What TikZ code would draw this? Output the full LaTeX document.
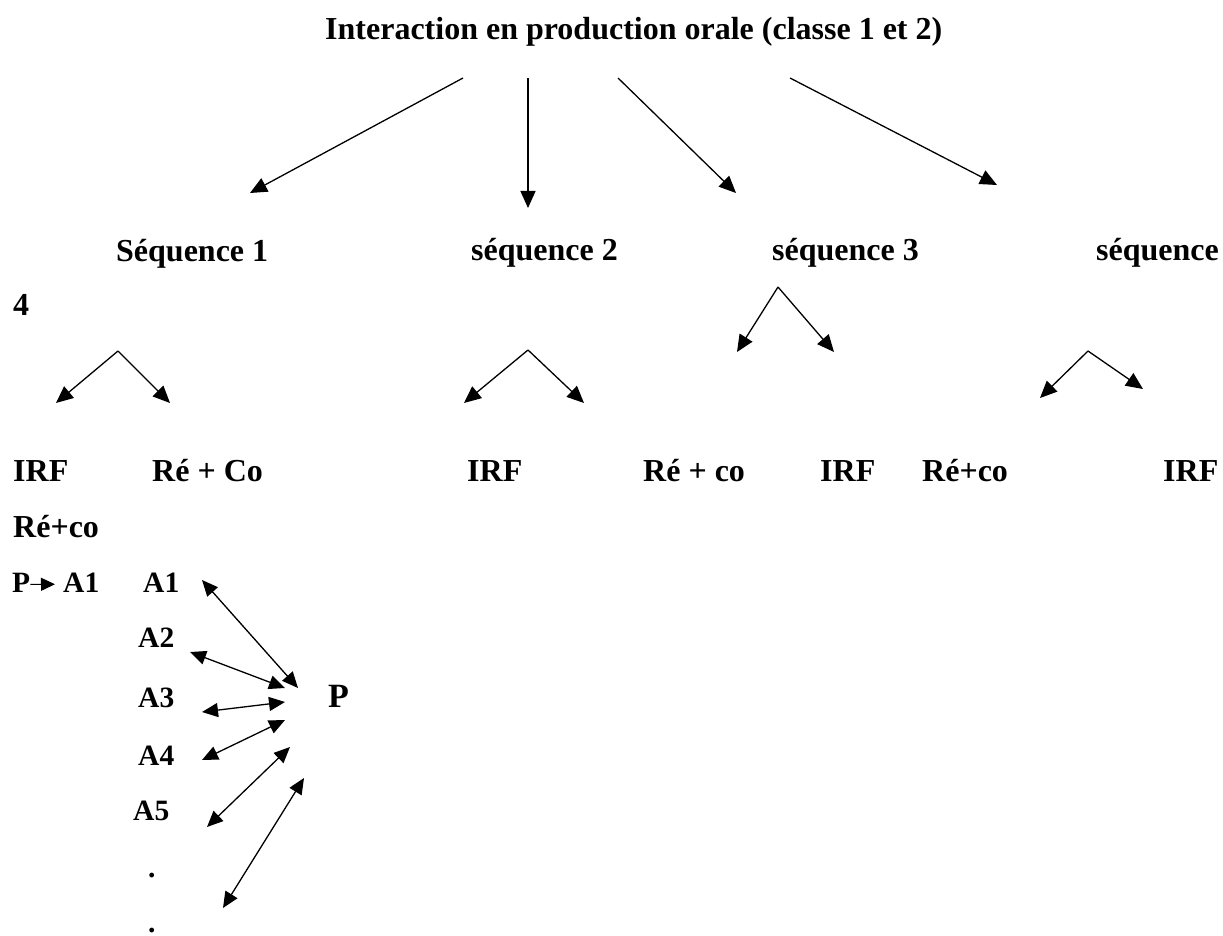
\documentclass[tikz,border=0pt]{standalone}
\usepackage{fontspec}
\setmainfont{Liberation Serif}
\usetikzlibrary{positioning, arrows.meta}
\tikzset{
  txt/.style={inner sep=0pt, anchor=base west, font=\bfseries\fontsize{32}{36}\selectfont},
  eleve/.style={inner sep=0pt, anchor=base west, font=\bfseries\fontsize{29.5}{34}\selectfont},
  prof/.style={inner sep=0pt, anchor=base west, font=\bfseries\fontsize{34}{40}\selectfont},
  arrow/.style={line width=1.3pt, -{Triangle[length=17pt,width=15pt]}},
  darrow/.style={line width=1.3pt, {Triangle[length=16pt,width=14pt]}-{Triangle[length=16pt,width=14pt]}}
}

\begin{document}
\begin{tikzpicture}[x=1pt, y=-1pt]
    \useasboundingbox (0,0) rectangle (1223,936);

    \node (title) [txt] at (325,40) {Interaction en production orale (classe 1 et 2)};

    \node (seq1) [txt] at (116,261) {Séquence 1};
    \node (seq2) [txt] at (471,260) {séquence 2};
    \node (seq3) [txt] at (772,260) {séquence 3};
    \node (seq4) [txt] at (1096,260) {séquence};
    \node (four) [txt] at (13,315) {4};

    \node (irf1) [txt] at (13,481) {IRF};
    \node (reco1) [txt] at (152,481) {Ré + Co};
    \node (irf2) [txt] at (467,481) {IRF};
    \node (reco2) [txt] at (643,481) {Ré + co};
    \node (irf3) [txt] at (820,481) {IRF};
    \node (reco3) [txt] at (922,481) {Ré+co};
    \node (irf4) [txt] at (1163,481) {IRF};
    \node (reco4) [txt] at (13,537) {Ré+co};

    % P -> A1
    \node (p0) [eleve] at (12,592) {P};
    \node (a0) [eleve] at (63,592) {A1};
    \draw [line width=1pt, -{Triangle[length=14pt,width=13pt]}] ([yshift=-2pt]p0.east) -- ([xshift=-8pt,yshift=-2pt]a0.west);

    \node (a1) [eleve] at (143,592) {A1};
    \node (a2) [eleve] at (138,647) {A2};
    \node (a3) [eleve] at (138,707) {A3};
    \node (a4) [eleve] at (138,765) {A4};
    \node (a5) [eleve] at (133,820) {A5};
    \node (dot1) [eleve] at (148,877) {.};
    \node (dot2) [eleve] at (148,932) {.};
    \node (prof) [prof] at (328,707) {P};

    % points des fleches
    \coordinate (t1) at (463,78);  \coordinate (e1) at (250,193);
    \coordinate (t2) at (528,78);  \coordinate (e2) at (528,208);
    \coordinate (t3) at (618,78);  \coordinate (e3) at (736,193);
    \coordinate (t4) at (790,78);  \coordinate (e4) at (997,185);

    \coordinate (s1) at (118,351); \coordinate (s1l) at (56,403);   \coordinate (s1r) at (170,403);
    \coordinate (s2) at (528,350); \coordinate (s2l) at (464,403);  \coordinate (s2r) at (584,403);
    \coordinate (s3) at (778,287); \coordinate (s3l) at (737,352);  \coordinate (s3r) at (834,352);
    \coordinate (s4) at (1088,351);\coordinate (s4l) at (1040,398); \coordinate (s4r) at (1143,389);

    \coordinate (u1) at (202,580); \coordinate (v1) at (298,688);
    \coordinate (u2) at (190,652); \coordinate (v2) at (285,688);
    \coordinate (u3) at (202,712); \coordinate (v3) at (285,702);
    \coordinate (u4) at (202,760); \coordinate (v4) at (285,720);
    \coordinate (u5) at (207,827); \coordinate (v5) at (290,747);
    \coordinate (u6) at (223,908); \coordinate (v6) at (304,778);

    % Fleches du titre
    \draw [arrow] (t1) -- (e1);
    \draw [arrow] (t2) -- (e2);
    \draw [arrow] (t3) -- (e3);
    \draw [arrow] (t4) -- (e4);

    % Sequences
    \draw [arrow] (s1) -- (s1l);
    \draw [arrow] (s1) -- (s1r);
    \draw [arrow] (s2) -- (s2l);
    \draw [arrow] (s2) -- (s2r);
    \draw [arrow] (s3) -- (s3l);
    \draw [arrow] (s3) -- (s3r);
    \draw [arrow] (s4) -- (s4l);
    \draw [arrow] (s4) -- (s4r);

    % Echanges avec P
    \draw [darrow] (u1) -- (v1);
    \draw [darrow] (u2) -- (v2);
    \draw [darrow] (u3) -- (v3);
    \draw [darrow] (u4) -- (v4);
    \draw [darrow] (u5) -- (v5);
    \draw [darrow] (u6) -- (v6);

\end{tikzpicture}
\end{document}
